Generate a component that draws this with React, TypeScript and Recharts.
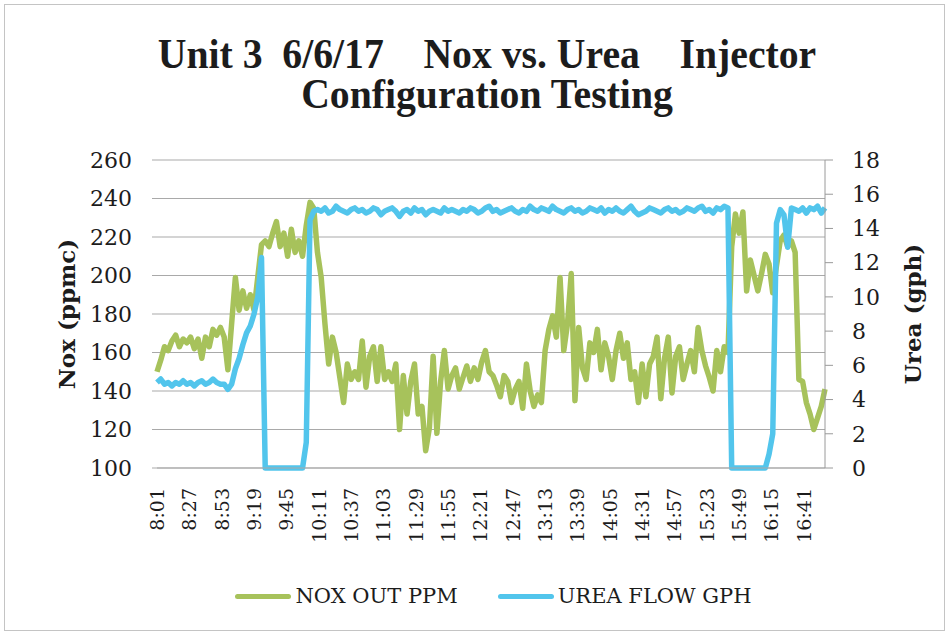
import { LineChart, Line, XAxis, YAxis, CartesianGrid, Legend } from 'recharts'

// x-axis labels, one every 26 minutes
const TICK_LABELS = [
  '8:01', '8:27', '8:53', '9:19', '9:45', '10:11', '10:37', '11:03', '11:29', '11:55',
  '12:21', '12:47', '13:13', '13:39', '14:05', '14:31', '14:57', '15:23', '15:49', '16:15', '16:41',
]

const START_MIN = 481 // 8:01
const STEP_MIN = 3 // one reading every 3 minutes, up to 16:58

const NOX_PPM = [
  150, 156, 163, 161, 166, 169, 163, 167, 165, 168,
  162, 167, 157, 168, 163, 172, 169, 173, 168, 151,
  175, 199, 182, 192, 183, 190, 182, 199, 216, 218,
  215, 222, 228, 215, 222, 210, 224, 212, 218, 210,
  226, 238, 235, 212, 199, 175, 154, 168, 160, 147,
  134, 154, 146, 150, 146, 166, 142, 158, 163, 145,
  163, 146, 150, 145, 154, 120, 148, 128, 145, 154,
  128, 132, 109, 121, 158, 118, 145, 161, 141, 148,
  152, 141, 147, 153, 145, 152, 146, 155, 161, 150,
  148, 143, 137, 148, 145, 134, 141, 145, 131, 154,
  140, 132, 138, 134, 161, 172, 179, 168, 199, 161,
  175, 201, 135, 173, 152, 146, 165, 160, 172, 151,
  165, 158, 146, 161, 170, 157, 165, 146, 150, 134,
  154, 137, 154, 158, 168, 136, 157, 168, 139, 158,
  163, 146, 154, 161, 150, 173, 161, 153, 147, 140,
  161, 150, 163, 160, 215, 232, 222, 233, 192, 208,
  200, 192, 201, 211, 206, 191, 205, 218, 221, 215,
  218, 212, 146, 145, 134, 128, 120, 126, 132, 141,
]

const UREA_GPH = [
  5.0, 5.2, 4.9, 5.0, 4.8, 5.0, 4.9, 5.1, 4.9, 5.0,
  4.8, 5.0, 5.1, 4.9, 5.0, 5.2, 5.0, 4.9, 4.9, 4.6,
  4.9, 5.8, 6.4, 7.2, 7.9, 8.3, 9.0, 10.0, 12.3, 0,
  0, 0, 0, 0, 0, 0, 0, 0, 0, 0,
  1.5, 14.5, 15.0, 15.1, 15.0, 15.2, 14.9, 15.0, 15.3, 15.1,
  15.0, 14.9, 15.1, 15.2, 15.0, 15.1, 14.9, 15.0, 15.2, 15.1,
  14.8, 15.0, 15.1, 15.2, 15.0, 14.7, 15.0, 15.1, 14.9, 15.2,
  15.0, 15.1, 14.8, 15.0, 15.1, 15.0, 14.9, 15.2, 15.0, 15.1,
  15.0, 14.9, 15.1, 15.0, 15.2, 15.1, 14.9, 15.0, 15.2, 15.3,
  15.0, 15.1, 14.9, 15.0, 15.1, 15.2, 15.0, 14.9, 15.1, 15.0,
  15.3, 15.1, 15.0, 15.2, 15.1, 15.0, 15.3, 15.1, 15.0, 14.9,
  15.1, 15.2, 15.0, 15.1, 14.9, 15.0, 15.2, 15.1, 15.0, 15.2,
  14.9, 15.1, 15.0, 15.2, 15.0, 14.9, 15.1, 15.3, 15.0, 14.8,
  14.9, 15.0, 15.2, 15.1, 15.0, 14.9, 15.1, 15.2, 15.0, 15.1,
  14.9, 15.0, 15.2, 15.1, 15.0, 15.2, 15.3, 15.0, 15.1, 14.9,
  15.2, 15.1, 15.3, 15.2, 0, 0, 0, 0, 0, 0,
  0, 0, 0, 0, 0.8, 2.0, 14.3, 15.1, 14.8, 12.9,
  15.2, 15.1, 15.0, 15.2, 14.9, 15.2, 15.1, 15.3, 14.9, 15.2,
]

const NOX_TICKS = [100, 120, 140, 160, 180, 200, 220, 240, 260]
const UREA_TICKS = [0, 2, 4, 6, 8, 10, 12, 14, 16, 18]

const NOX_COLOR = '#a7c25b'
const UREA_COLOR = '#52c5ec'
const GRID = '#a9a9a9'
const INK = '#1c1c1c'
const SERIF = '"DejaVu Serif", serif'

const toMinutes = (s: string) => {
  const [h, m] = s.split(':').map(Number)
  return h * 60 + m
}
const fmtTime = (v: number) => `${Math.floor(v / 60)}:${String(v % 60).padStart(2, '0')}`

const data = NOX_PPM.map((nox, i) => ({
  t: START_MIN + i * STEP_MIN,
  nox,
  urea: UREA_GPH[i],
}))
const END_MIN = data[data.length - 1].t

const TimeTick = ({ x, y, payload }: any) => (
  <g transform={`translate(${x},${y})`}>
    <text
      transform="rotate(-90)"
      x={-20}
      y={0}
      dy="0.36em"
      textAnchor="end"
      fontSize={19}
      fontFamily={SERIF}
      fill={INK}
    >
      {fmtTime(payload.value)}
    </text>
  </g>
)

const AxisTitle = (dx: number, text: string) => ({ viewBox }: any) => {
  const cx = viewBox.x + dx
  const cy = viewBox.y + viewBox.height / 2
  return (
    <text
      x={cx}
      y={cy}
      transform={`rotate(-90, ${cx}, ${cy})`}
      textAnchor="middle"
      dy="0.36em"
      fontSize={23}
      fontWeight={700}
      fontFamily={SERIF}
      fill={INK}
    >
      {text}
    </text>
  )
}

const renderLegend = () => {
  const items = [
    { label: 'NOX OUT PPM', color: NOX_COLOR },
    { label: 'UREA FLOW GPH', color: UREA_COLOR },
  ]
  return (
    <div style={{ display: 'flex', justifyContent: 'center', gap: 40, fontFamily: SERIF, fontSize: 21, color: INK }}>
      {items.map((it) => (
        <div key={it.label} style={{ display: 'flex', alignItems: 'center' }}>
          <span style={{ display: 'inline-block', width: 56, height: 5, borderRadius: 3, background: it.color, marginRight: 4 }} />
          <span>{it.label}</span>
        </div>
      ))}
    </div>
  )
}

export default function App() {
  return (
    <div style={{ position: 'absolute', left: 0, top: 0, width: 951, height: 639, background: '#fff' }}>
      <div
        style={{
          position: 'absolute', left: 4, top: 4, width: 941, height: 627,
          border: '1px solid #c4c4c4', boxSizing: 'border-box',
        }}
      />
      <div
        style={{
          position: 'absolute', left: 0, top: 34, width: 974, textAlign: 'center',
          fontFamily: '"Liberation Serif", serif', fontWeight: 700, fontSize: 42,
          lineHeight: '40px', color: INK, whiteSpace: 'pre',
          transform: 'scaleX(0.945)', transformOrigin: '487px 0',
        }}
      >
        {'Unit 3  6/6/17    Nox vs. Urea    Injector\nConfiguration Testing'}
      </div>
      <LineChart
        width={951}
        height={639}
        data={data}
        margin={{ top: 160, right: 76, bottom: 91, left: 97 }}
        style={{ position: 'absolute', left: 0, top: 0 }}
      >
        <CartesianGrid vertical={false} stroke={GRID} yAxisId="nox" />
        <XAxis
          dataKey="t"
          type="number"
          domain={[START_MIN, END_MIN]}
          ticks={TICK_LABELS.map(toMinutes)}
          interval={0}
          tick={<TimeTick />}
          tickLine={false}
          tickSize={0}
          tickMargin={0}
          axisLine={{ stroke: GRID }}
          height={80}
        />
        <YAxis
          yAxisId="nox"
          orientation="left"
          domain={[100, 260]}
          ticks={NOX_TICKS}
          interval={0}
          width={60}
          axisLine={false}
          tickLine={{ stroke: GRID }}
          tickSize={5}
          tickMargin={20}
          tick={{ fontSize: 22, fontFamily: SERIF, fill: INK }}
          label={{ content: AxisTitle(-30, 'Nox (ppmc)') }}
        />
        <YAxis
          yAxisId="urea"
          orientation="right"
          domain={[0, 18]}
          ticks={UREA_TICKS}
          interval={0}
          width={50}
          axisLine={{ stroke: '#9a9a9a' }}
          tickLine={{ stroke: '#9a9a9a' }}
          tickSize={8}
          tickMargin={19}
          tick={{ fontSize: 22, fontFamily: SERIF, fill: INK }}
          label={{ content: AxisTitle(88, 'Urea (gph)') }}
        />
        <Legend
          verticalAlign="middle"
          align="center"
          layout="horizontal"
          content={renderLegend}
          wrapperStyle={{ top: 584, left: 18, width: 951 }}
        />
        <Line
          yAxisId="nox"
          dataKey="nox"
          name="NOX OUT PPM"
          type="linear"
          stroke={NOX_COLOR}
          strokeWidth={5.5}
          strokeLinejoin="round"
          dot={false}
          isAnimationActive={false}
        />
        <Line
          yAxisId="urea"
          dataKey="urea"
          name="UREA FLOW GPH"
          type="linear"
          stroke={UREA_COLOR}
          strokeWidth={5.5}
          strokeLinejoin="round"
          dot={false}
          isAnimationActive={false}
        />
      </LineChart>
    </div>
  )
}
